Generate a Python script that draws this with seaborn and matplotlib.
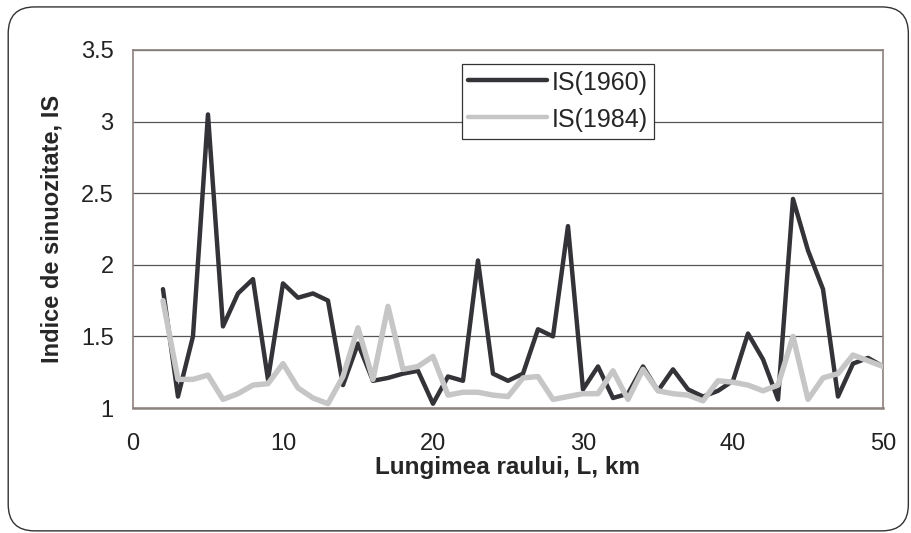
"""Sinuosity index along the river, 1960 vs 1984"""
import matplotlib
matplotlib.use("Agg")
import matplotlib.pyplot as plt
from matplotlib.patches import FancyBboxPatch
import numpy as np
import pandas as pd
import seaborn as sns

# Distance along the river (km)
km = list(range(2, 51))

# Sinuosity index
is_1960 = [1.83, 1.08, 1.50, 3.05, 1.57, 1.80, 1.90, 1.20, 1.87, 1.77,
           1.80, 1.75, 1.16, 1.45, 1.19, 1.21, 1.24, 1.26, 1.03, 1.22,
           1.19, 2.03, 1.24, 1.19, 1.24, 1.55, 1.50, 2.27, 1.13, 1.29,
           1.07, 1.10, 1.29, 1.12, 1.27, 1.13, 1.08, 1.12, 1.19, 1.52,
           1.34, 1.06, 2.46, 2.10, 1.83, 1.08, 1.31, 1.35, 1.29]
is_1984 = [1.75, 1.20, 1.20, 1.23, 1.06, 1.10, 1.16, 1.17, 1.31, 1.14,
           1.07, 1.03, 1.22, 1.56, 1.20, 1.71, 1.27, 1.29, 1.36, 1.09,
           1.11, 1.11, 1.09, 1.08, 1.21, 1.22, 1.06, 1.08, 1.10, 1.10,
           1.26, 1.06, 1.27, 1.12, 1.10, 1.09, 1.05, 1.19, 1.18, 1.16,
           1.12, 1.16, 1.50, 1.06, 1.21, 1.24, 1.37, 1.33, 1.29]

series_names = ["IS(1960)", "IS(1984)"]

df = pd.DataFrame({
    "L": km * 2,
    "IS": is_1960 + is_1984,
    "serie": [series_names[0]] * len(km) + [series_names[1]] * len(km),
})

sns.set_style("white")
plt.rcParams["font.family"] = ["Liberation Sans", "DejaVu Sans"]

fig = plt.figure(figsize=(9.12, 5.33), dpi=100)
ax = fig.add_axes([0.1458, 0.2345, 0.8224, 0.6717])

# Rounded outer frame, like the spreadsheet chart area
frame = FancyBboxPatch((0.009, 0.004), 0.987, 0.983,
                       boxstyle="round,pad=0,rounding_size=0.029",
                       transform=fig.transFigure, facecolor="none",
                       edgecolor="#333333", linewidth=1.0,
                       mutation_aspect=912 / 533)
fig.patches.append(frame)

sns.lineplot(data=df, x="L", y="IS", hue="serie", hue_order=series_names,
             palette={"IS(1960)": "#333338", "IS(1984)": "#c6c6c6"},
             ax=ax, sort=False, estimator=None, linewidth=3.2, zorder=3)
# thicker, lighter 1984 line
ax.lines[1].set_linewidth(3.9)

ax.set_xlim(0, 50)
ax.set_ylim(1, 3.5)
ax.set_xticks(np.arange(0, 51, 10))
ax.set_yticks([1, 1.5, 2, 2.5, 3, 3.5])
ax.set_yticklabels(["1", "1.5", "2", "2.5", "3", "3.5"])
ax.yaxis.grid(True, color="#555555", linewidth=0.9)
ax.set_axisbelow(True)

for side in ["top", "right", "left"]:
    ax.spines[side].set_color("#8c827e")
    ax.spines[side].set_linewidth(1.2)
ax.spines["bottom"].set_color("#8c827e")
ax.spines["bottom"].set_linewidth(1.8)

ax.tick_params(axis="both", direction="out", length=6, width=0.9,
               color="#333333", labelsize=17, labelcolor="#222222")
ax.tick_params(axis="y", pad=8)
ax.tick_params(axis="x", pad=12)

ax.set_xlabel("Lungimea raului, L, km", fontsize=17.5, fontweight="bold")
ax.set_ylabel("Indice de sinuozitate, IS", fontsize=17, fontweight="bold")
ax.xaxis.set_label_coords(0.5, -0.133)
ax.yaxis.set_label_coords(-0.092, 0.5)

leg = ax.legend(loc="upper left", bbox_to_anchor=(0.4387, 0.961),
                fontsize=18, frameon=True, fancybox=False, handlelength=3.16,
                handleheight=1.04, handletextpad=0.16, borderpad=0.25,
                labelspacing=0.48, borderaxespad=0)
leg.get_frame().set_edgecolor("#333333")
leg.get_frame().set_linewidth(0.9)
leg.get_frame().set_alpha(1)
leg.set_title(None)

fig.savefig("out.png", dpi=100)
